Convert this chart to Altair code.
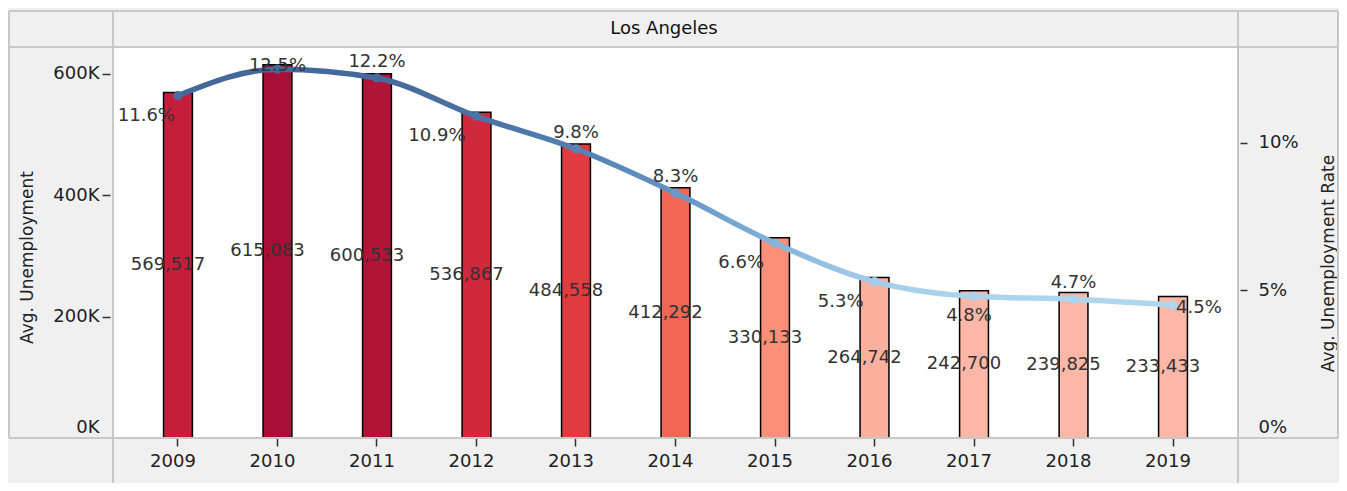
import altair as alt
import pandas as pd

# ---------------- data ----------------
years = [2009, 2010, 2011, 2012, 2013, 2014, 2015, 2016, 2017, 2018, 2019]
avg_unemployment = [569517, 615083, 600533, 536867, 484558, 412292,
                    330133, 264742, 242700, 239825, 233433]
avg_rate_pct = [11.6, 12.5, 12.2, 10.9, 9.8, 8.3, 6.6, 5.3, 4.8, 4.7, 4.5]
panel_title = ["Los Angeles"]

# label placement for the rate labels (style only)
rate_label_place = {
    2009: "below_left_near", 2010: "top", 2011: "above", 2012: "below_left",
    2013: "above", 2014: "above", 2015: "below_left", 2016: "below_left",
    2017: "below", 2018: "above", 2019: "right",
}

df = pd.DataFrame({
    "year": years,
    "unemp": avg_unemployment,
    "rate": [r / 100 for r in avg_rate_pct],
})
df["place"] = [rate_label_place[y] for y in years]

FONT = "DejaVu Sans"
W, H = 1125, 391
BORDER = "#c8c8c8"
TXT = "#333333"

# ---------------- shared encodings ----------------
x_enc = alt.X(
    "year:O",
    scale=alt.Scale(paddingInner=0.71, paddingOuter=0.508),
    axis=alt.Axis(title=None, labelAngle=0, domain=False, grid=False,
                  tickSize=8, tickColor="#333333", tickWidth=1.5,
                  labelFont=FONT, labelFontSize=18, labelColor="#222222",
                  labelOffset=-5, labelPadding=6),
)

yL_scale = alt.Scale(domain=[0, 644500], nice=False)
yL_axis = alt.Axis(
    values=[0, 200000, 400000, 600000],
    labelExpr="datum.value / 1000 + 'K'",
    domain=False, grid=False, offset=3, tickSize=8, tickWidth=1.5,
    tickColor="#333333",
    tickOpacity={"condition": {"test": "datum.value === 0", "value": 0}, "value": 1},
    labelFont=FONT, labelFontSize=18, labelColor="#222222", labelPadding=3,
    labelFlush=True, labelFlushOffset=-2,
    title="Avg. Unemployment", titleFont=FONT, titleFontSize=17,
    titleFontWeight="normal", titleColor="#222222", titleAngle=270,
    titleX=-83, titleY=210, titleAlign="center", titleBaseline="middle",
)

yR_scale = alt.Scale(domain=[0, 0.1325], nice=False)
yR_axis = alt.Axis(
    orient="right", values=[0, 0.05, 0.10], format=".0%",
    domain=False, grid=False, offset=2, tickSize=7, tickWidth=1.5,
    tickColor="#333333",
    tickOpacity={"condition": {"test": "datum.value === 0", "value": 0}, "value": 1},
    labelFont=FONT, labelFontSize=18, labelColor="#222222", labelPadding=11,
    labelFlush=True, labelFlushOffset=-2,
    title="Avg. Unemployment Rate", titleFont=FONT, titleFontSize=17,
    titleFontWeight="normal", titleColor="#222222", titleAngle=270,
    titleX=88, titleY=216, titleAlign="center", titleBaseline="middle",
)

base = alt.Chart(df)

# ---------------- bars ----------------
bar_color = alt.Color(
    "unemp:Q", legend=None,
    scale=alt.Scale(
        domain=[250000, 330000, 412000, 485000, 537000, 570000, 601000, 615083],
        range=["#fdb7a7", "#fb8f79", "#f26654", "#e13b40", "#d2283c",
               "#c41e3a", "#b21439", "#a90f36"],
        clamp=True),
)

bars = base.mark_bar(stroke="black", strokeWidth=1.5).encode(
    x=x_enc, y=alt.Y("unemp:Q", scale=yL_scale, axis=yL_axis), color=bar_color
)

bar_labels = base.transform_calculate(half="datum.unemp / 2").mark_text(
    font=FONT, fontSize=18, color=TXT, dx=-10, baseline="middle"
).encode(
    x=x_enc,
    y=alt.Y("half:Q", scale=yL_scale, axis=yL_axis),
    text=alt.Text("unemp:Q", format=","),
)

left = alt.layer(bars, bar_labels)

# ---------------- line ----------------
line_grad = alt.Gradient(
    gradient="linear", x1=0, x2=1, y1=0, y2=0,
    stops=[
        alt.GradientStop(offset=0.0, color="#44689a"),
        alt.GradientStop(offset=0.2, color="#45699b"),
        alt.GradientStop(offset=0.3, color="#4a72a4"),
        alt.GradientStop(offset=0.4, color="#5380b3"),
        alt.GradientStop(offset=0.5, color="#6594c6"),
        alt.GradientStop(offset=0.6, color="#84b3da"),
        alt.GradientStop(offset=0.7, color="#a4cdeb"),
        alt.GradientStop(offset=0.8, color="#acd4ee"),
        alt.GradientStop(offset=1.0, color="#b0d6ef"),
    ],
)

yR = alt.Y("rate:Q", scale=yR_scale, axis=yR_axis)

line = base.mark_line(interpolate="monotone", strokeWidth=5.5,
                      strokeJoin="round", strokeCap="round",
                      color=line_grad).encode(x=x_enc, y=yR)

points = base.mark_point(filled=True, size=85, opacity=1).encode(
    x=x_enc, y=yR,
    color=alt.Color(
        "rate:Q", legend=None,
        scale=alt.Scale(
            domain=[0.045, 0.053, 0.066, 0.083, 0.098, 0.109, 0.125],
            range=["#b0d6ef", "#a4cdeb", "#86b5dc", "#6a9acb", "#5783b6",
                   "#4b74a6", "#44689a"],
            clamp=True),
    ),
)

placements = {
    "below_left_near": dict(align="right", dx=-3, dy=20),
    "below_left": dict(align="right", dx=-11, dy=20),
    "top": dict(align="center", dx=0, dy=-3),
    "above": dict(align="center", dx=0, dy=-16),
    "below": dict(align="center", dx=-5, dy=20),
    "right": dict(align="left", dx=3, dy=3),
}

rate_labels = [
    base.transform_filter(alt.datum.place == name).mark_text(
        font=FONT, fontSize=18, color=TXT, baseline="middle", **opts
    ).encode(x=x_enc, y=yR, text=alt.Text("rate:Q", format=".1%"))
    for name, opts in placements.items()
]

right = alt.layer(line, points, *rate_labels)

# ---------------- table borders and header (decoration) ----------------
one = pd.DataFrame({"k": [0]})


def hrule(y, x1, x2):
    return alt.Chart(one).mark_rule(color=BORDER, strokeWidth=2).encode(
        x=alt.value(x1), x2=alt.value(x2), y=alt.value(y))


def vrule(x, y1, y2):
    return alt.Chart(one).mark_rule(color=BORDER, strokeWidth=2).encode(
        x=alt.value(x), y=alt.value(y1), y2=alt.value(y2))


borders = [
    hrule(-36, -104, 1225),
    hrule(0, -104, 1225),
    hrule(H, -104, 1225),
    vrule(0, -36, 436),
    vrule(W, -36, 436),
    vrule(-104, -36, H),
    vrule(1225, -36, H),
]

header = alt.Chart(pd.DataFrame({"title": panel_title})).mark_text(
    font=FONT, fontSize=18, color="#111111", align="center", baseline="middle"
).encode(x=alt.value(551), y=alt.value(-18), text="title:N")

chart = alt.layer(left, right, *borders, header).resolve_scale(
    y="independent", color="independent"
).properties(
    width=W, height=H,
    autosize=alt.AutoSizeParams(type="none"),
    padding={"left": 105, "top": 39, "right": 101, "bottom": 45},
).configure(
    background="#f0f0f0",
).configure_view(
    fill="white", stroke="transparent",
)

chart.save("out.html", embed_options={"renderer": "svg", "actions": False})
